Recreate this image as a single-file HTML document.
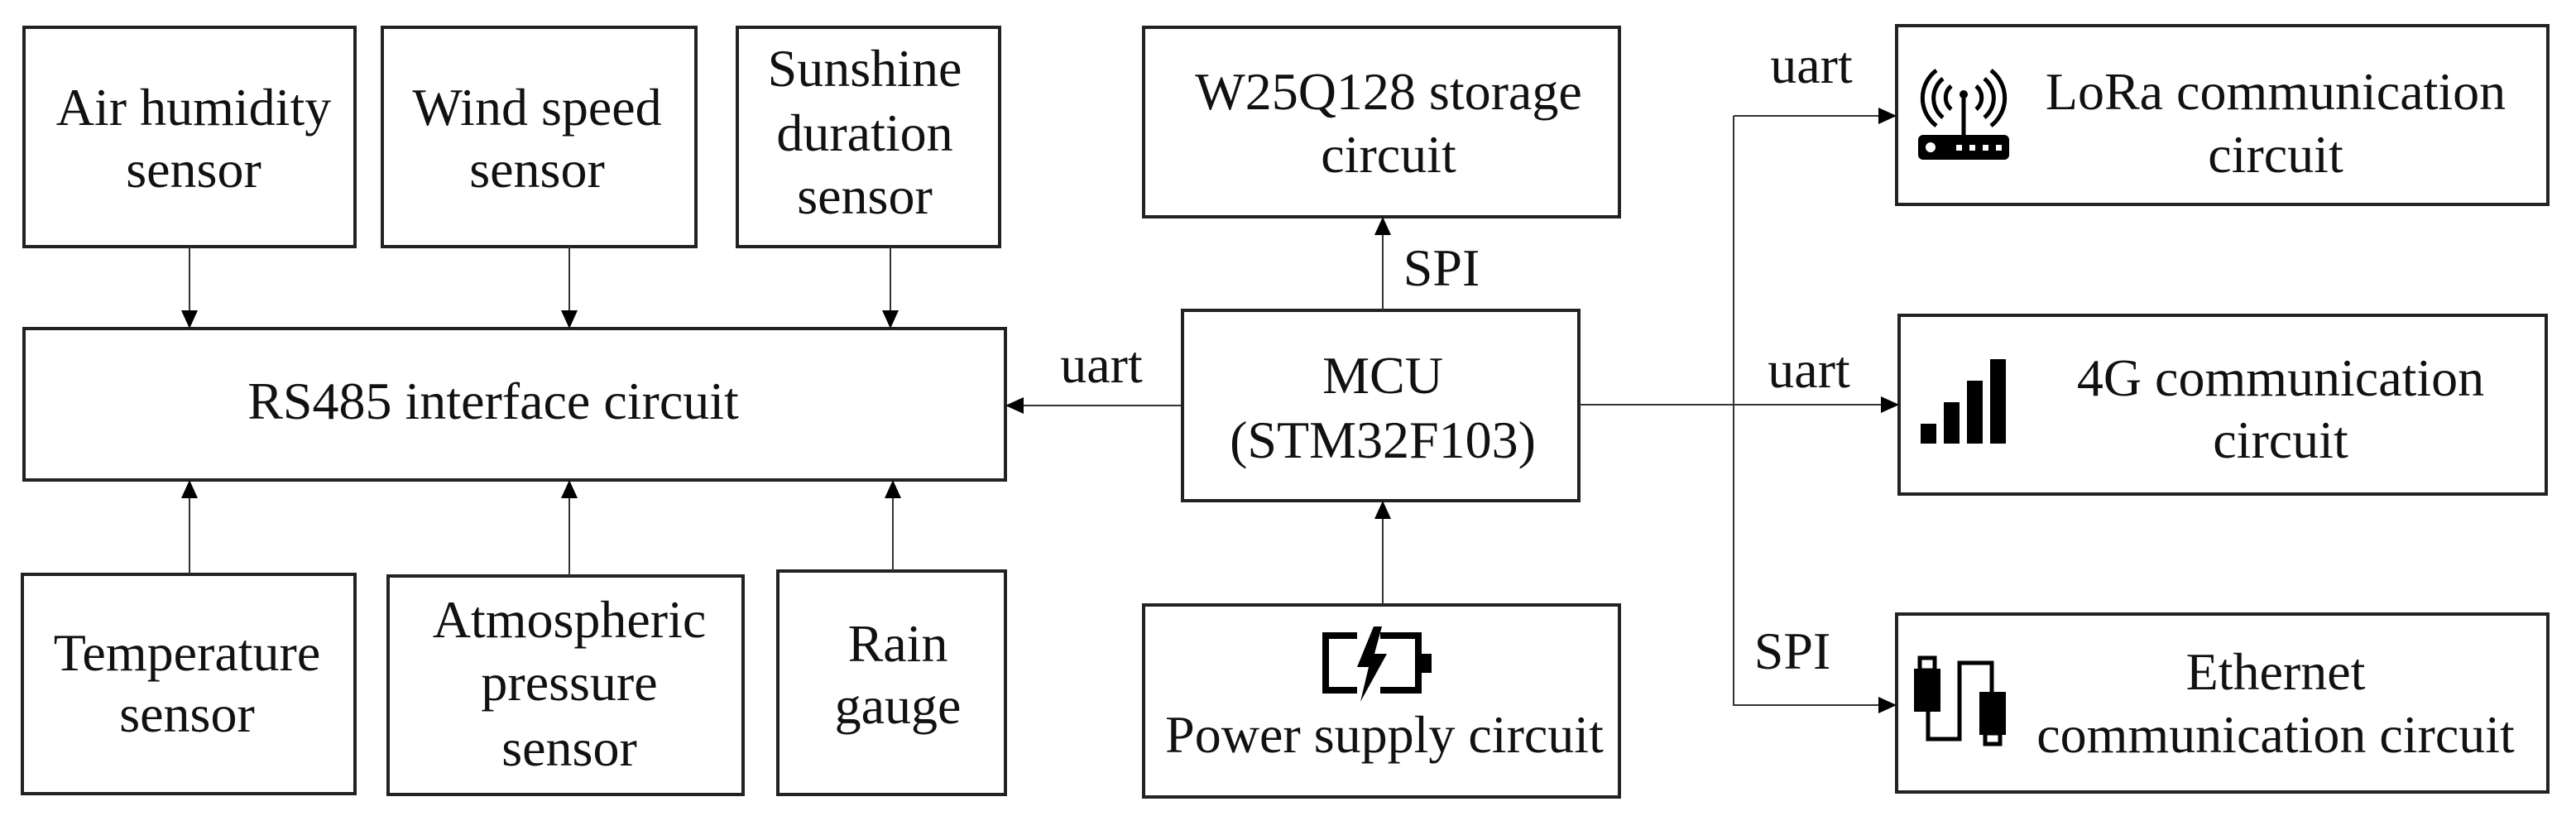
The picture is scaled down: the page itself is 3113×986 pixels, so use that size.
<!DOCTYPE html>
<html><head><meta charset="utf-8"><style>
html,body{margin:0;padding:0;background:#fff;}
svg{display:block;}
text{font-family:"Liberation Serif",serif;font-size:64px;fill:#111;text-anchor:middle;}
.b{fill:none;stroke:#222;stroke-width:4;}
.l{fill:none;stroke:#333;stroke-width:2;}
</style></head><body>
<svg width="3113" height="986" viewBox="0 0 3113 986" xmlns="http://www.w3.org/2000/svg">
<defs>
<marker id="a" markerWidth="22" markerHeight="20" refX="21" refY="10" orient="auto" markerUnits="userSpaceOnUse">
<path d="M0,0 L22,10 L0,20 z" fill="#000"/>
</marker>
</defs>
<!-- left boxes -->
<rect class="b" x="29" y="33" width="400" height="265"/>
<rect class="b" x="462" y="33" width="379" height="265"/>
<rect class="b" x="891" y="33" width="317" height="265"/>
<rect class="b" x="29" y="397" width="1186" height="183"/>
<rect class="b" x="27" y="694" width="402" height="265"/>
<rect class="b" x="469" y="696" width="429" height="264"/>
<rect class="b" x="940" y="690" width="275" height="270"/>
<text x="234" y="151">Air humidity</text><text x="234" y="226">sensor</text>
<text x="649" y="151">Wind speed</text><text x="649" y="226">sensor</text>
<text x="1045" y="104">Sunshine</text><text x="1045" y="182">duration</text><text x="1045" y="258">sensor</text>
<text x="596" y="506">RS485 interface circuit</text>
<text x="226" y="810">Temperature</text><text x="226" y="884">sensor</text>
<text x="688" y="770">Atmospheric</text><text x="688" y="846">pressure</text><text x="688" y="925">sensor</text>
<text x="1085" y="799">Rain</text><text x="1085" y="874">gauge</text>
<line class="l" x1="229" y1="298" x2="229" y2="396" marker-end="url(#a)"/>
<line class="l" x1="688" y1="298" x2="688" y2="396" marker-end="url(#a)"/>
<line class="l" x1="1076" y1="298" x2="1076" y2="396" marker-end="url(#a)"/>
<line class="l" x1="229" y1="694" x2="229" y2="581" marker-end="url(#a)"/>
<line class="l" x1="688" y1="696" x2="688" y2="581" marker-end="url(#a)"/>
<line class="l" x1="1079" y1="690" x2="1079" y2="581" marker-end="url(#a)"/>
<line class="l" x1="1428" y1="490" x2="1216" y2="490" marker-end="url(#a)"/>
<text x="1331" y="462">uart</text>
<!-- middle -->
<rect class="b" x="1382" y="33" width="575" height="229"/>
<rect class="b" x="1429" y="375" width="479" height="230"/>
<rect class="b" x="1382" y="731" width="575" height="232"/>
<text x="1678" y="132">W25Q128 storage</text><text x="1678" y="208">circuit</text>
<text x="1671" y="475">MCU</text><text x="1671" y="553">(STM32F103)</text>
<text x="1673" y="909">Power supply circuit</text>
<line class="l" x1="1671" y1="375" x2="1671" y2="263" marker-end="url(#a)"/>
<text x="1742" y="345">SPI</text>
<line class="l" x1="1671" y1="731" x2="1671" y2="606" marker-end="url(#a)"/>
<!-- battery -->
<path d="M1640,768 H1602 V834 H1640 M1668,768 H1714 V834 H1668" fill="none" stroke="#000" stroke-width="8"/>
<rect x="1716" y="790" width="14" height="23" fill="#000"/>
<path d="M1660,757 L1640,806 L1654,806 L1644,848 L1676,790 L1661,790 L1670,757 z" fill="#000"/>
<!-- right -->
<rect class="b" x="2292" y="31" width="787" height="216"/>
<rect class="b" x="2295" y="381" width="782" height="216"/>
<rect class="b" x="2292" y="742" width="787" height="215"/>
<text x="2750" y="132">LoRa communication</text><text x="2750" y="208">circuit</text>
<text x="2756" y="478">4G communication</text><text x="2756" y="553">circuit</text>
<text x="2750" y="833">Ethernet</text><text x="2750" y="909">communication circuit</text>
<polyline class="l" points="2095,140 2095,852 2291,852" marker-end="url(#a)"/>
<line class="l" x1="2095" y1="140" x2="2291" y2="140" marker-end="url(#a)"/>
<line class="l" x1="1908" y1="489" x2="2294" y2="489" marker-end="url(#a)"/>
<text x="2189" y="100">uart</text>
<text x="2186" y="468">uart</text>
<text x="2166" y="808">SPI</text>
<!-- router icon -->
<g fill="none" stroke="#000" stroke-width="5">
<path d="M2358,104 A18,18 0 0 0 2358,132"/><path d="M2388,104 A18,18 0 0 1 2388,132"/>
<path d="M2348,95 A30,30 0 0 0 2348,142"/><path d="M2398,95 A30,30 0 0 1 2398,142"/>
<path d="M2340,85 A42,42 0 0 0 2340,152"/><path d="M2406,85 A42,42 0 0 1 2406,152"/>
<line x1="2373" y1="115" x2="2373" y2="165"/>
</g>
<circle cx="2373" cy="114" r="5" fill="#000"/>
<rect x="2318" y="163" width="110" height="30" rx="6" fill="#000"/>
<circle cx="2333" cy="178" r="6" fill="#fff"/>
<rect x="2364" y="175" width="7" height="7" fill="#fff"/><rect x="2380" y="175" width="7" height="7" fill="#fff"/><rect x="2396" y="175" width="7" height="7" fill="#fff"/><rect x="2412" y="175" width="7" height="7" fill="#fff"/>
<!-- 4G bars -->
<rect x="2321" y="512" width="19" height="24" fill="#000"/>
<rect x="2349" y="486" width="19" height="50" fill="#000"/>
<rect x="2377" y="460" width="19" height="76" fill="#000"/>
<rect x="2405" y="434" width="19" height="102" fill="#000"/>
<!-- ethernet -->
<rect x="2313" y="808" width="32" height="52" fill="#000"/>
<rect x="2320" y="795" width="18" height="15" fill="none" stroke="#000" stroke-width="5"/>
<path d="M2330,860 V893 H2368 V801 H2407 V836" fill="none" stroke="#000" stroke-width="5"/>
<rect x="2392" y="836" width="32" height="52" fill="#000"/>
<rect x="2399" y="886" width="18" height="13" fill="none" stroke="#000" stroke-width="5"/>
</svg>
</body></html>
